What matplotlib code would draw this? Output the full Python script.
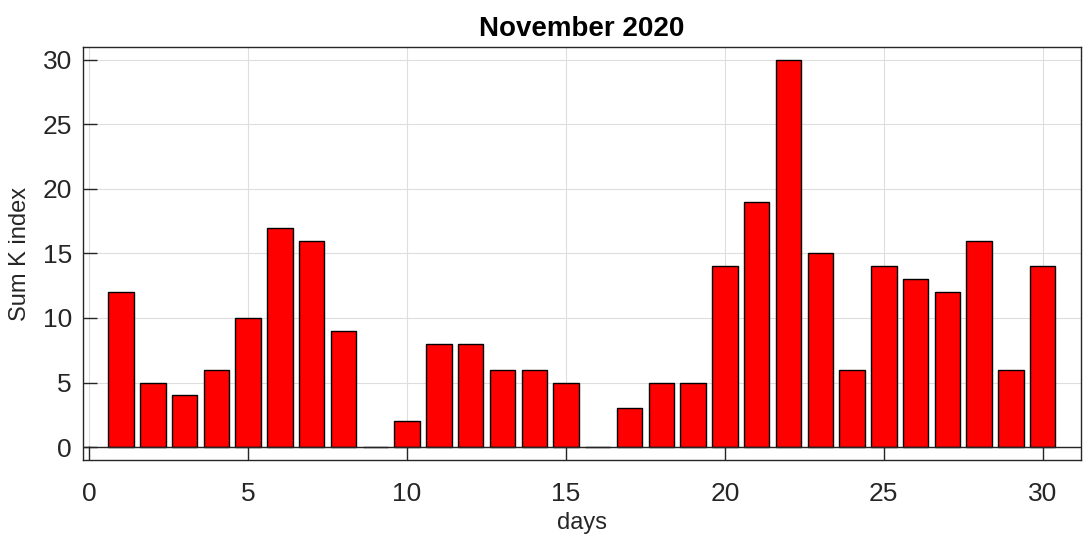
import numpy as np
import matplotlib.pyplot as plt

plt.rcParams['font.family'] = ['Liberation Sans', 'DejaVu Sans']

days = np.arange(1, 31)
sum_k = [12, 5, 4, 6, 10, 17, 16, 9, 0, 2, 8, 8, 6, 6, 5,
         0, 3, 5, 5, 14, 19, 30, 15, 6, 14, 13, 12, 16, 6, 14]
title = 'November 2020'

fig = plt.figure(figsize=(10.83, 5.43), dpi=100)
ax = fig.add_axes([0.0766, 0.153, 0.9214, 0.7604])

ax.bar(days, sum_k, width=0.8, color='#ff0000', edgecolor='black', linewidth=1.0, zorder=3)
# baseline like matlab bar()
ax.axhline(0, color='#262626', linewidth=1.0, zorder=4)

ax.set_xlim(-0.2, 31.2)
ax.set_ylim(-1, 31)
ax.set_xticks([0, 5, 10, 15, 20, 25, 30])
ax.set_yticks([0, 5, 10, 15, 20, 25, 30])
ax.grid(True, color='#dedede', linewidth=0.8, zorder=0)
ax.tick_params(direction='in', length=10, width=1, colors='#262626', labelsize=19,
               top=False, right=False)
ax.tick_params(axis='x', pad=16)
ax.tick_params(axis='y', pad=8)
for s in ax.spines.values():
    s.set_color('#262626')
    s.set_linewidth(1)

ax.set_xlabel('days', fontsize=17, color='#262626', labelpad=4)
ax.set_ylabel('Sum K index', fontsize=17, color='#262626', labelpad=8)
ax.set_title(title, fontsize=20, fontweight='bold', pad=8)

fig.savefig('out.png', dpi=100)
